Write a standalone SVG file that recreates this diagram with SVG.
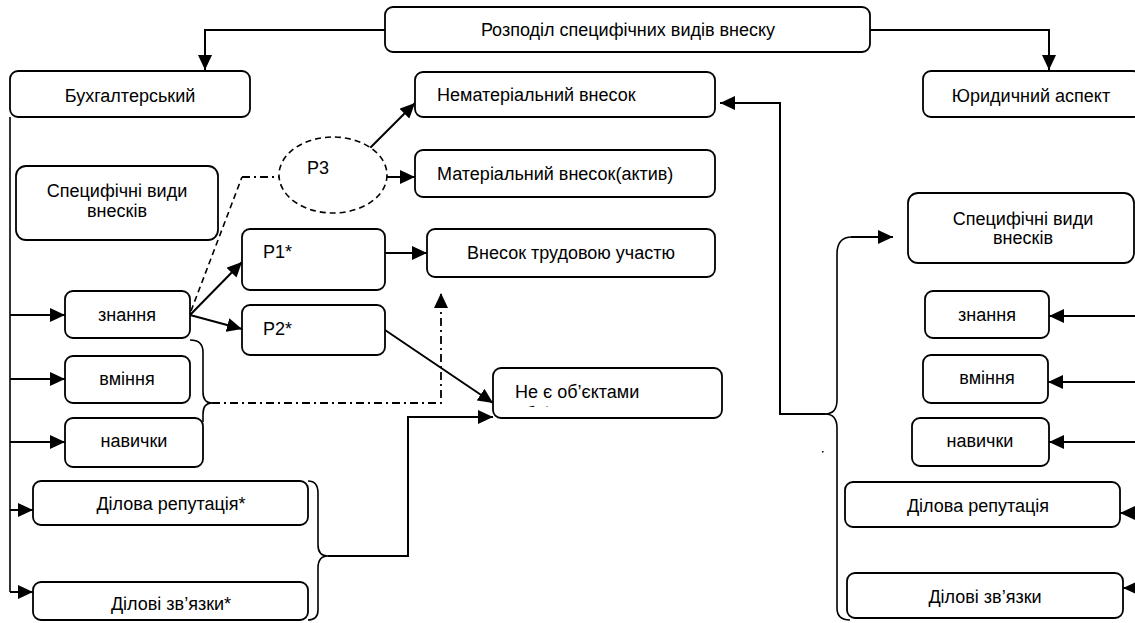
<svg xmlns="http://www.w3.org/2000/svg" width="1135" height="623" viewBox="0 0 1135 623">
<style>
.box{fill:#fff;stroke:#000;stroke-width:1.8}
.t{font-family:"Liberation Sans",Arial,sans-serif;font-size:18px;fill:#000}
.c{text-anchor:middle}
.ln{fill:none;stroke:#000;stroke-width:2}
.th{fill:none;stroke:#000;stroke-width:1.6}
.dash{fill:none;stroke:#000;stroke-width:1.6;stroke-dasharray:6,4}
.dd{fill:none;stroke:#000;stroke-width:1.8;stroke-dasharray:8,4,2,4}
</style>
<defs>
<marker id="ah" markerUnits="userSpaceOnUse" markerWidth="16" markerHeight="14" refX="15" refY="7" orient="auto">
<path d="M0,0 L15,7 L0,14 Z" fill="#000"/>
</marker>
<clipPath id="clipNe"><rect x="493" y="368" width="229" height="39"/></clipPath>
</defs>
<rect width="1135" height="623" fill="#fff"/>

<g id="connectors">
<path class="ln" d="M385,30 H205 V70" marker-end="url(#ah)"/>
<path class="ln" d="M870,30 H1049 V70" marker-end="url(#ah)"/>
<path class="th" d="M10,117 V592"/>
<path class="ln" d="M10,315 H65" marker-end="url(#ah)"/>
<path class="ln" d="M10,379 H65" marker-end="url(#ah)"/>
<path class="ln" d="M10,442 H65" marker-end="url(#ah)"/>
<path class="ln" d="M10,510 H33" marker-end="url(#ah)"/>
<path class="ln" d="M10,592 H33" marker-end="url(#ah)"/>
<path class="ln" d="M190,315 L242,262" marker-end="url(#ah)"/>
<path class="ln" d="M190,315 L242,329" marker-end="url(#ah)"/>
<path class="dash" d="M191,311 L242,177"/>
<path class="dd" d="M242,177 H279"/>
<path class="ln" d="M370,148 L415,103" marker-end="url(#ah)"/>
<path class="ln" d="M387,177 H415" marker-end="url(#ah)"/>
<path class="ln" d="M385,253 H427" marker-end="url(#ah)"/>
<path class="ln" d="M385,330 L493,403" marker-end="url(#ah)"/>
<path class="th" d="M190,340 Q203,340 203,352 V392 Q203,403 212,403 Q203,403 203,414 V422"/>
<path class="dd" d="M212,403 H441 V293" marker-end="url(#ah)"/>
<path class="th" d="M308,481 Q318,481 318,493 V545 Q318,556 328,556 Q318,556 318,568 V610 Q318,620 308,620"/>
<path class="ln" d="M328,556 H408 V417 H493" marker-end="url(#ah)"/>
<path class="ln" d="M825,414 H780 V103 H720" marker-end="url(#ah)"/>
<path class="th" d="M825,414 Q837,414 837,400 V254 Q837,237 852,237"/>
<path class="ln" d="M851,237 H893" marker-end="url(#ah)"/>
<path class="th" d="M825,414 Q837,414 837,428 V608 Q837,620 850,620"/>
<path class="ln" d="M1135,316 H1049" marker-end="url(#ah)"/>
<path class="ln" d="M1135,382 H1048" marker-end="url(#ah)"/>
<path class="ln" d="M1135,442 H1049" marker-end="url(#ah)"/>
<path class="ln" d="M1137,513 H1120" marker-end="url(#ah)"/>
<path class="ln" d="M1137,588 H1123" marker-end="url(#ah)"/>
<rect x="822" y="451" width="1.5" height="1.5" fill="#000"/>
</g>

<g id="n-top"><rect class="box" x="385" y="7" width="485" height="45" rx="8"/><text class="t c" x="628" y="36">Розподіл специфічних видів внеску</text></g>
<g id="n-buh"><rect class="box" x="10" y="71" width="240" height="46" rx="8"/><text class="t c" x="130" y="102">Бухгалтерський</text></g>
<g id="n-yur"><rect class="box" x="923" y="71" width="218" height="46" rx="8"/><text class="t c" x="1031" y="102">Юридичний аспект</text></g>
<g id="n-nemat"><rect class="box" x="415" y="72" width="300" height="45" rx="8"/><text class="t" x="437" y="101">Нематеріальний внесок</text></g>
<g id="n-mat"><rect class="box" x="415" y="150" width="300" height="47" rx="8"/><text class="t" x="437" y="180">Матеріальний внесок(актив)</text></g>
<g id="n-p3"><ellipse cx="333" cy="175" rx="54" ry="38" fill="#fff" stroke="#000" stroke-width="1.6" stroke-dasharray="6,4"/><text class="t" x="307" y="174">P3</text></g>
<g id="n-spec-l"><rect class="box" x="16" y="166" width="202" height="74" rx="10"/><text class="t c" x="117" y="197">Специфічні види</text><text class="t c" x="117" y="217">внесків</text></g>
<g id="n-p1"><rect class="box" x="242" y="229" width="143" height="61" rx="8"/><text class="t" x="263" y="258">P1*</text></g>
<g id="n-p2"><rect class="box" x="242" y="305" width="143" height="50" rx="8"/><text class="t" x="263" y="335">P2*</text></g>
<g id="n-trud"><rect class="box" x="427" y="229" width="288" height="48" rx="8"/><text class="t c" x="571" y="259">Внесок трудовою участю</text></g>
<g id="n-ne"><rect class="box" x="493" y="368" width="229" height="50" rx="8"/><text class="t" x="515" y="398">Не є об’єктами</text><text class="t" x="515" y="420" clip-path="url(#clipNe)">обліку</text></g>
<g id="n-zn-l"><rect class="box" x="65" y="291" width="125" height="47" rx="8"/><text class="t c" x="127" y="321">знання</text></g>
<g id="n-vm-l"><rect class="box" x="65" y="356" width="125" height="47" rx="8"/><text class="t c" x="127" y="385">вміння</text></g>
<g id="n-nav-l"><rect class="box" x="65" y="418" width="138" height="49" rx="8"/><text class="t c" x="134" y="447">навички</text></g>
<g id="n-rep-l"><rect class="box" x="33" y="481" width="275" height="44" rx="8"/><text class="t c" x="171" y="510">Ділова репутація*</text></g>
<g id="n-zv-l"><rect class="box" x="33" y="582" width="275" height="38" rx="8"/><text class="t c" x="171" y="610">Ділові зв’язки*</text></g>
<g id="n-spec-r"><rect class="box" x="908" y="193" width="226" height="70" rx="10"/><text class="t c" x="1023" y="225">Специфічні види</text><text class="t c" x="1023" y="244">внесків</text></g>
<g id="n-zn-r"><rect class="box" x="925" y="291" width="124" height="47" rx="8"/><text class="t c" x="987" y="321">знання</text></g>
<g id="n-vm-r"><rect class="box" x="923" y="355" width="125" height="48" rx="8"/><text class="t c" x="987" y="384">вміння</text></g>
<g id="n-nav-r"><rect class="box" x="912" y="418" width="137" height="48" rx="8"/><text class="t c" x="980" y="447">навички</text></g>
<g id="n-rep-r"><rect class="box" x="845" y="482" width="275" height="45" rx="8"/><text class="t c" x="978" y="512">Ділова репутація</text></g>
<g id="n-zv-r"><rect class="box" x="847" y="573" width="276" height="45" rx="8"/><text class="t c" x="985" y="603">Ділові зв’язки</text></g>
</svg>
